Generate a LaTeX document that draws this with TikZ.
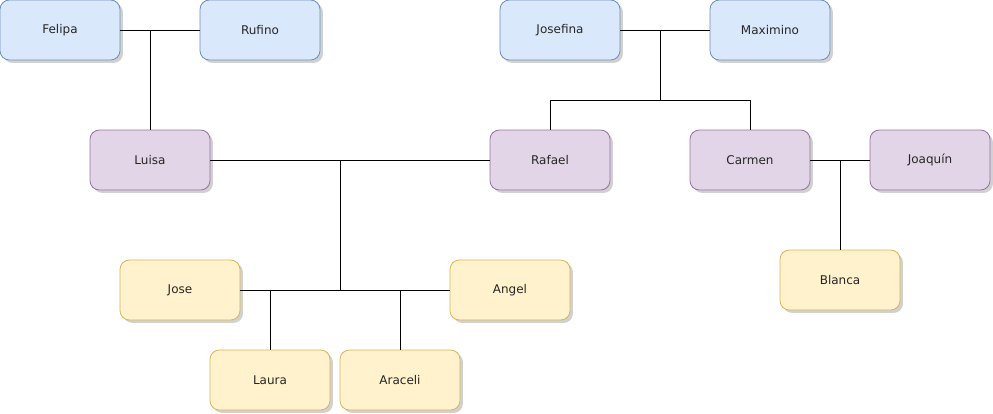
\documentclass[tikz,border=0pt]{standalone}
\usepackage{fontspec}
\setmainfont{DejaVu Sans}
\usepackage{tikz}
\usetikzlibrary{positioning, shadows}
\definecolor{azulf}{HTML}{DAE8FC}
\definecolor{azull}{HTML}{6C8EBF}
\definecolor{moradof}{HTML}{E1D5E7}
\definecolor{moradol}{HTML}{9673A6}
\definecolor{amarillof}{HTML}{FFF2CC}
\definecolor{amarillol}{HTML}{D6B656}
\tikzset{
  persona/.style={rounded corners=7pt, minimum width=90pt, minimum height=45pt,
    font=\fontsize{9}{11}\selectfont, text=black!85, line width=0.6pt,
    drop shadow={shadow xshift=2.2pt, shadow yshift=-2.2pt, opacity=0.3, fill=black!60}},
  abuelo/.style={persona, draw=azull, fill=azulf},
  padre/.style={persona, draw=moradol, fill=moradof},
  hijo/.style={persona, draw=amarillol, fill=amarillof},
  rama/.style={line width=0.75pt, black}
}
\begin{document}
\begin{tikzpicture}[x=0.75pt, y=-0.75pt]
    \useasboundingbox (0,0) rectangle (993,414);
    % abuelos
    \node[abuelo] (felipa) at (60,30) {Felipa};
    \node[abuelo] (rufino) at (260,30) {Rufino};
    \node[abuelo] (josefina) at (560,30) {Josefina};
    \node[abuelo] (maximino) at (770,30) {Maximino};
    % padres
    \node[padre] (luisa) at (150,160) {Luisa};
    \node[padre] (rafael) at (550,160) {Rafael};
    \node[padre] (carmen) at (750,160) {Carmen};
    \node[padre] (joaquin) at (930,160) {Joaquín};
    % hijos
    \node[hijo] (jose) at (180,290) {Jose};
    \node[hijo] (angel) at (510,290) {Angel};
    \node[hijo] (laura) at (270,380) {Laura};
    \node[hijo] (araceli) at (400,380) {Araceli};
    \node[hijo] (blanca) at (840,280) {Blanca};
    % uniones
    \coordinate (union2) at (660,30);
    \coordinate (reparto2) at (660,100);
    \coordinate (union3) at (340,160);
    \coordinate (union4) at (840,160);
    \draw[rama] (felipa) -- (rufino);
    \draw[rama] (luisa.north) -- (luisa.north |- felipa.east);
    \draw[rama] (josefina) -- (maximino);
    \draw[rama] (union2) -- (reparto2);
    \draw[rama] (rafael.north) -- (rafael.north |- reparto2) -- (carmen.north |- reparto2) -- (carmen.north);
    \draw[rama] (luisa) -- (rafael);
    \draw[rama] (union3) -- (union3 |- jose.east);
    \draw[rama] (jose) -- (angel);
    \draw[rama] (laura.north) -- (laura.north |- jose.east);
    \draw[rama] (araceli.north) -- (araceli.north |- jose.east);
    \draw[rama] (carmen) -- (joaquin);
    \draw[rama] (union4) -- (blanca.north);
\end{tikzpicture}
\end{document}
